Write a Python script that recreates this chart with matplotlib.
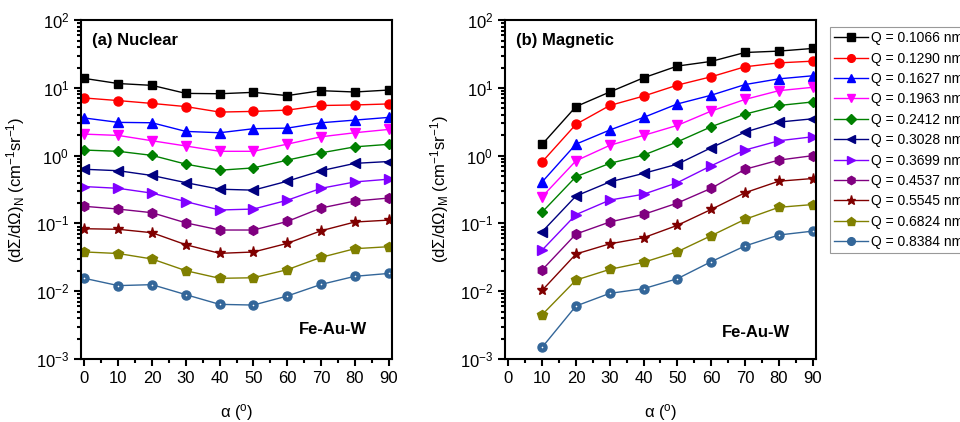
import matplotlib.pyplot as plt
import numpy as np

plt.rcParams['font.family'] = ['Liberation Sans', 'DejaVu Sans']
plt.rcParams['mathtext.default'] = 'regular'

# angles
alpha_n = [0, 10, 20, 30, 40, 50, 60, 70, 80, 90]
alpha_m = [10, 20, 30, 40, 50, 60, 70, 80, 90]

q_labels = ['0.1066', '0.1290', '0.1627', '0.1963', '0.2412', '0.3028',
            '0.3699', '0.4537', '0.5545', '0.6824', '0.8384']

# (a) nuclear cross sections, one row per Q
nuclear = [
    [13.8, 11.6, 10.9, 8.3, 8.2, 8.6, 7.7, 9.1, 8.7, 9.3],
    [7.1, 6.5, 5.9, 5.3, 4.4, 4.5, 4.7, 5.5, 5.6, 5.8],
    [3.6, 3.1, 3.06, 2.28, 2.18, 2.5, 2.55, 3.06, 3.35, 3.67],
    [2.08, 1.99, 1.66, 1.39, 1.16, 1.16, 1.48, 1.9, 2.18, 2.44],
    [1.21, 1.16, 1.01, 0.75, 0.61, 0.66, 0.86, 1.1, 1.35, 1.47],
    [0.63, 0.6, 0.51, 0.4, 0.32, 0.31, 0.42, 0.6, 0.77, 0.82],
    [0.35, 0.33, 0.28, 0.21, 0.158, 0.163, 0.22, 0.33, 0.41, 0.45],
    [0.179, 0.163, 0.144, 0.102, 0.08, 0.08, 0.107, 0.169, 0.214, 0.237],
    [0.0836, 0.082, 0.073, 0.0485, 0.0362, 0.0379, 0.0508, 0.078, 0.105, 0.112],
    [0.038, 0.036, 0.0299, 0.0201, 0.0155, 0.0158, 0.0208, 0.0316, 0.0424, 0.0454],
    [0.0155, 0.0121, 0.0125, 0.0089, 0.0064, 0.00625, 0.0085, 0.0126, 0.0166, 0.0183],
]

# (b) magnetic cross sections
magnetic = [
    [1.47, 5.3, 8.7, 14.1, 21, 24.6, 33.3, 34.9, 38.2],
    [0.81, 2.9, 5.5, 7.57, 11, 14.6, 20.5, 23.4, 24.8],
    [0.41, 1.48, 2.39, 3.67, 5.8, 7.8, 11.2, 13.6, 15.1],
    [0.248, 0.84, 1.42, 1.99, 2.8, 4.55, 6.76, 9.1, 10.2],
    [0.147, 0.49, 0.77, 1.02, 1.6, 2.67, 4.1, 5.5, 6.2],
    [0.0755, 0.254, 0.41, 0.548, 0.75, 1.31, 2.23, 3.13, 3.5],
    [0.0405, 0.135, 0.221, 0.27, 0.4, 0.71, 1.21, 1.66, 1.9],
    [0.0206, 0.0698, 0.105, 0.136, 0.2, 0.33, 0.63, 0.86, 1.0],
    [0.0103, 0.0354, 0.05, 0.0616, 0.0938, 0.161, 0.284, 0.42, 0.46],
    [0.0045, 0.0146, 0.021, 0.0267, 0.0383, 0.066, 0.115, 0.173, 0.19],
    [0.00149, 0.00605, 0.0093, 0.0109, 0.0153, 0.0273, 0.0465, 0.0675, 0.077],
]

colors = ['#000000', '#FF0000', '#0000FF', '#FF00FF', '#008000', '#000080',
          '#8000FF', '#800080', '#800000', '#808000', '#336699']
markers = ['s', 'o', '^', 'v', 'D', '<', '>', 'h', '*', 'p', 'o']
msizes = [6, 6.5, 7, 7, 5.5, 7, 7, 7, 8, 7.5, 6.5]

fig = plt.figure(figsize=(9.6, 4.22), dpi=100)
ax1 = fig.add_axes([0.0844, 0.1493, 0.324, 0.803])
ax2 = fig.add_axes([0.526, 0.1493, 0.324, 0.803])

handles = []
for ax, x, data in [(ax1, alpha_n, nuclear), (ax2, alpha_m, magnetic)]:
    handles = []
    for i in range(len(q_labels)):
        ln, = ax.plot(x, data[i], color=colors[i], marker=markers[i], ms=msizes[i],
                      lw=1)
        handles.append(ln)
        if i == 10:
            # small highlight in the "sphere" marker
            ax.plot(x, data[i], ls='none', marker='o', ms=1.2, mew=0,
                    color='white')
    ax.set_yscale('log')
    ax.set_ylim(1e-3, 1e2)
    ax.set_xlim(-1, 91)
    ax.set_xticks(np.arange(0, 91, 10))
    ax.set_xticks(np.arange(5, 91, 10), minor=True)
    ax.tick_params(which='both', direction='out', labelsize=12, width=1.5)
    ax.tick_params(which='major', length=5)
    ax.tick_params(which='minor', length=3)
    for s in ax.spines.values():
        s.set_linewidth(1.5)
    ax.set_xlabel('α ($^{o}$)', fontsize=12, labelpad=12)

ax1.set_ylabel('(dΣ/dΩ)$_N$ (cm$^{-1}$sr$^{-1}$)', fontsize=12, labelpad=6)
ax2.set_ylabel('(dΣ/dΩ)$_M$ (cm$^{-1}$sr$^{-1}$)', fontsize=12, labelpad=6)

ax1.text(0.035, 0.94, '(a) Nuclear', transform=ax1.transAxes, fontsize=12,
         fontweight='bold', va='center')
ax2.text(0.035, 0.94, '(b) Magnetic', transform=ax2.transAxes, fontsize=12,
         fontweight='bold', va='center')
ax1.text(0.70, 0.086, 'Fe-Au-W', transform=ax1.transAxes, fontsize=12,
         fontweight='bold', va='center')
ax2.text(0.697, 0.077, 'Fe-Au-W', transform=ax2.transAxes, fontsize=12,
         fontweight='bold', va='center')

# legend sits at the right edge and runs off the figure, as in the original
leg = fig.legend(handles, [f'Q = {q} nm⁻¹' for q in q_labels],
                 loc='upper left', bbox_to_anchor=(0.8646, 0.936),
                 borderaxespad=0, fontsize=10, frameon=True, fancybox=False,
                 edgecolor='gray', handlelength=2.4, labelspacing=0.46,
                 borderpad=0.3, handletextpad=0.25, markerscale=0.85)
leg.get_frame().set_linewidth(0.8)

plt.savefig('out.png', dpi=100)
